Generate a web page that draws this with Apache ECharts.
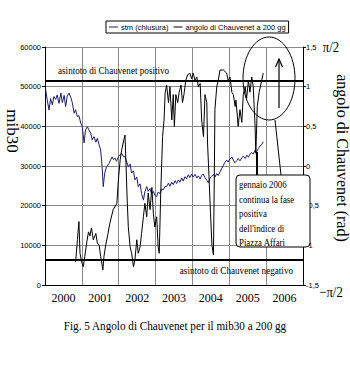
<!DOCTYPE html>
<html>
<head>
<meta charset="utf-8">
<script src="https://cdn.jsdelivr.net/npm/echarts@6/dist/echarts.min.js"></script>
<style>html,body{margin:0;padding:0;background:#fff;}#c{width:350px;height:375px;}</style>
</head>
<body>
<div id="c"></div>
<script>
const yearLabels = ['2000','2001','2002','2003','2004','2005','2006'];
const mibYears = [2000.02,2000.06,2000.11,2000.15,2000.20,2000.24,2000.29,2000.33,2000.38,2000.43,2000.47,2000.52,2000.56,2000.60,2000.65,2000.70,2000.74,2000.79,2000.83,2000.88,2000.92,2000.97,2001.01,2001.06,2001.10,2001.15,2001.19,2001.24,2001.28,2001.33,2001.38,2001.42,2001.47,2001.51,2001.55,2001.58,2001.62,2001.67,2001.74,2001.78,2001.82,2001.86,2001.90,2001.94,2001.99,2002.03,2002.08,2002.12,2002.17,2002.22,2002.26,2002.31,2002.35,2002.40,2002.44,2002.49,2002.53,2002.58,2002.62,2002.67,2002.71,2002.76,2002.80,2002.85,2002.89,2002.94,2002.98,2003.03,2003.07,2003.12,2003.17,2003.21,2003.25,2003.30,2003.35,2003.39,2003.44,2003.48,2003.53,2003.57,2003.62,2003.66,2003.71,2003.75,2003.80,2003.84,2003.89,2003.93,2003.98,2004.02,2004.07,2004.12,2004.16,2004.21,2004.25,2004.29,2004.34,2004.39,2004.43,2004.48,2004.52,2004.57,2004.61,2004.66,2004.70,2004.75,2004.79,2004.84,2004.88,2004.93,2004.97,2005.02,2005.07,2005.11,2005.15,2005.20,2005.24,2005.29,2005.34,2005.38,2005.43,2005.48,2005.52,2005.56,2005.61,2005.65,2005.70,2005.74,2005.79,2005.83,2005.88,2005.92];
const mibValues = [49200,46600,44100,47000,45400,47500,46800,47900,45800,48400,46000,47800,45000,47500,48400,47300,46000,43300,44200,42400,42700,40800,40000,35800,39100,39900,39100,38300,36600,37400,36000,37000,35300,34000,29800,24800,28200,29800,30700,31500,32300,31600,32000,31200,32300,32800,33200,32500,32300,31000,29800,30500,28200,28800,26500,27200,24800,25500,23100,21400,23500,24800,23600,24300,23000,23600,22600,22300,23400,23100,24200,24000,24800,24800,25700,24900,25900,25300,26300,25600,26500,25900,27000,26200,27300,26800,27800,27100,28000,27200,27900,27000,27500,26700,27600,28000,27100,26400,25800,27000,27400,27900,27200,28100,27600,28500,29300,30200,30900,31500,31000,31800,32300,31500,30800,31300,31900,31300,32100,32500,31900,32700,32200,33000,33400,33000,34000,33600,34400,35000,35400,36100];
const angleYears = [2000.83,2000.88,2000.92,2000.95,2001.00,2001.04,2001.08,2001.13,2001.18,2001.22,2001.26,2001.31,2001.38,2001.42,2001.47,2001.51,2001.57,2001.60,2001.65,2001.71,2001.76,2001.85,2001.95,2001.99,2002.04,2002.08,2002.12,2002.17,2002.20,2002.23,2002.26,2002.31,2002.35,2002.40,2002.44,2002.49,2002.53,2002.58,2002.62,2002.67,2002.71,2002.76,2002.80,2002.85,2002.90,2002.94,2002.98,2003.03,2003.07,2003.10,2003.14,2003.17,2003.19,2003.23,2003.26,2003.30,2003.35,2003.39,2003.44,2003.48,2003.51,2003.55,2003.60,2003.64,2003.69,2003.73,2003.77,2003.82,2003.87,2003.93,2003.98,2004.02,2004.07,2004.12,2004.16,2004.21,2004.25,2004.30,2004.34,2004.39,2004.41,2004.45,2004.49,2004.53,2004.57,2004.59,2004.61,2004.66,2004.70,2004.75,2004.84,2004.93,2004.97,2005.02,2005.07,2005.11,2005.16,2005.18,2005.22,2005.24,2005.29,2005.34,2005.38,2005.43,2005.47,2005.52,2005.56,2005.61,2005.65,2005.70,2005.72,2005.76,2005.81,2005.88,2005.92];
const angleValues = [-1.21,-0.93,-0.70,-1.10,-1.22,-1.27,-1.14,-0.97,-0.83,-0.88,-0.78,-0.93,-0.85,-0.97,-1.00,-1.14,-1.31,-1.14,-0.99,-0.85,-0.72,-0.55,-0.47,-0.18,0.08,0.20,0.29,0.39,-0.01,-0.43,-0.77,-1.02,-1.10,-1.27,-1.18,-0.93,-1.10,-1.02,-0.85,-0.64,-0.47,-0.64,-0.34,-0.55,-0.27,-0.60,-0.77,-0.64,-1.02,-1.10,-0.34,0.08,0.37,0.58,0.92,1.02,0.80,1.00,0.58,0.90,0.50,0.90,0.80,0.93,1.02,0.80,0.90,1.08,1.15,1.17,1.10,1.17,1.08,1.12,1.00,1.04,0.58,0.37,0.90,0.80,0.29,-0.13,-0.60,-1.00,-1.12,-0.30,0.71,1.00,1.08,1.21,1.21,1.17,1.08,1.12,0.93,0.90,0.75,0.83,0.62,0.50,0.71,0.55,0.90,1.00,0.85,1.08,0.93,1.12,1.00,0.50,0.16,0.75,0.93,1.08,1.17];
const asymptoteLevels = [51500, 6300];
const asymptoteNames = ['asintoto di Chauvenet positivo', 'asintoto di Chauvenet negativo'];
const seriesNames = ['stm (chiusura)', 'angolo di Chauvenet a 200 gg'];
const calloutLines = ['gennaio 2006', 'continua la fase', 'positiva', "dell'indice di", 'Piazza Affari'];

const serif = "'Liberation Serif','Times New Roman',serif";
const narrow = "'Liberation Sans Narrow','Arial Narrow','Liberation Sans',Arial,sans-serif";
const chart = echarts.init(document.getElementById('c'), null, {renderer: 'svg'});
const gridCol = '#8a8a8a';

chart.setOption({
  animation: false,
  backgroundColor: '#fff',
  grid: {left: 45, right: 47, top: 47, bottom: 90, show: false},
  legend: {
    top: 21, left: 106, padding: [2, 3], itemGap: 5, itemWidth: 9, itemHeight: 1,
    icon: 'rect',
    borderColor: '#000', borderWidth: 1, borderRadius: 0,
    textStyle: {fontFamily: narrow, fontSize: 7.5, color: '#000', padding: [0, 0, 0, -2]},
    data: seriesNames
  },
  xAxis: [{
    type: 'value', min: 2000, max: 2007, interval: 1,
    axisLine: {show: true, onZero: false, lineStyle: {color: '#000'}},
    axisTick: {show: false}, axisLabel: {show: false},
    splitLine: {show: true, lineStyle: {color: gridCol, width: 1}}
  }, {
    type: 'category', data: yearLabels, position: 'bottom', boundaryGap: true,
    axisLine: {show: false}, axisTick: {show: false},
    axisLabel: {fontFamily: serif, fontSize: 12, color: '#000', margin: 7}
  }],
  yAxis: [{
    type: 'value', min: 0, max: 60000, interval: 10000, position: 'left',
    axisLine: {show: true, lineStyle: {color: '#000'}},
    axisTick: {show: true, length: 3, lineStyle: {color: '#000'}},
    axisLabel: {fontFamily: narrow, fontSize: 7.5, color: '#000', margin: 4,
      formatter: v => String(v)},
    splitLine: {show: true, lineStyle: {color: gridCol, width: 1}}
  }, {
    type: 'value', min: -1.5, max: 1.5, interval: 0.5, position: 'right',
    axisLine: {show: true, lineStyle: {color: '#000'}},
    axisTick: {show: true, length: 3, lineStyle: {color: '#000'}},
    axisLabel: {fontFamily: narrow, fontSize: 7.5, color: '#000', margin: 3,
      formatter: v => String(v).replace('.', ',')},
    splitLine: {show: false}
  }],
  series: [{
    name: seriesNames[0], type: 'line', xAxisIndex: 0, yAxisIndex: 0,
    data: mibYears.map((y, i) => [y, mibValues[i]]),
    symbol: 'none', lineStyle: {color: '#1e1e6e', width: 1}, itemStyle: {color: '#1e1e6e'},
    markLine: {
      silent: true, symbol: 'none', label: {show: false},
      lineStyle: {color: '#000', width: 2, type: 'solid'},
      data: asymptoteLevels.map(v => ({yAxis: v}))
    }
  }, {
    name: seriesNames[1], type: 'line', xAxisIndex: 0, yAxisIndex: 1,
    data: angleYears.map((y, i) => [y, angleValues[i]]),
    symbol: 'none', lineStyle: {color: '#000', width: 1}, itemStyle: {color: '#000'}
  }]
});

function txt(x, y, text, size, opts) {
  opts = opts || {};
  return {
    type: 'text', x: x, y: y, z: 100, rotation: opts.rotation || 0,
    scaleX: opts.scaleX || 1, scaleY: opts.scaleY || 1,
    style: {text: text, fontFamily: serif, fontSize: size, fill: '#000',
      align: opts.align || 'center', verticalAlign: opts.va || 'middle',
      lineHeight: opts.lineHeight}
  };
}

chart.setOption({
  graphic: [
    txt(58, 70, asymptoteNames[0], 11, {align: 'left', scaleX: 0.83}),
    txt(293, 270, asymptoteNames[1], 11, {align: 'right', scaleX: 0.83}),
    txt(12.5, 131, 'mib30', 17, {rotation: -Math.PI / 2}),
    txt(342, 158, 'angolo di Chauvenet (rad)', 16, {rotation: -Math.PI / 2}),
    txt(331, 47, 'π/2', 15, {scaleX: 0.85}),
    txt(331, 292, '−π/2', 15, {scaleX: 0.85}),
    txt(175, 326, 'Fig. 5 Angolo di Chauvenet per il mib30 a 200 gg', 13, {scaleX: 0.86}),
    {type: 'ellipse', z: 90, shape: {cx: 269, cy: 78.5, rx: 26, ry: 41.5},
      style: {fill: 'none', stroke: '#000', lineWidth: 1}},
    {type: 'line', z: 90, shape: {x1: 279, y1: 108, x2: 279, y2: 60},
      style: {stroke: '#000', lineWidth: 1.2}},
    {type: 'polyline', z: 90, shape: {points: [[275.5, 67], [279, 59], [282.5, 67]]},
      style: {fill: 'none', stroke: '#000', lineWidth: 1.2}},
    {type: 'line', z: 90, shape: {x1: 275, y1: 120, x2: 281, y2: 175},
      style: {stroke: '#000', lineWidth: 1}},
    {type: 'line', z: 90, shape: {x1: 257, y1: 152, x2: 257, y2: 175},
      style: {stroke: '#000', lineWidth: 2}},
    {type: 'rect', z: 95, shape: {x: 236, y: 175, width: 74, height: 72, r: 4},
      style: {fill: '#fff', stroke: '#000', lineWidth: 1}},
    txt(239, 177, calloutLines.join('\n'), 11, {align: 'left', va: 'top', scaleX: 0.8, lineHeight: 14.5})
  ]
});
</script>
</body>
</html>
